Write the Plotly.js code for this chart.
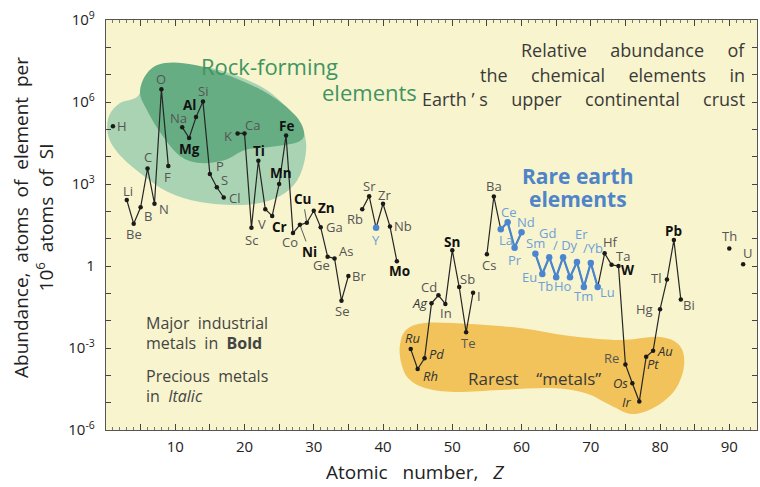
<!DOCTYPE html>
<html><head><meta charset="utf-8">
<script src="https://cdn.plot.ly/plotly-3.0.1.min.js"></script>
<style>html,body{margin:0;padding:0;background:#fff}#chart{width:760px;height:487px}</style>
</head><body><div id="chart"></div>
<script>
// ---------------- data ----------------
const elements = ['H','Li','Be','B','C','N','O','F','Na','Mg','Al','Si','P','S','Cl','K','Ca','Sc','Ti','V','Cr','Mn','Fe','Co','Ni','Cu','Zn','Ga','Ge','As','Se','Br','Rb','Sr','Y','Zr','Nb','Mo','Ru','Rh','Pd','Ag','Cd','In','Sn','Sb','Te','I','Cs','Ba','La','Ce','Pr','Nd','Sm','Eu','Gd','Tb','Dy','Ho','Er','Tm','Yb','Lu','Hf','Ta','W','Re','Os','Ir','Pt','Au','Hg','Tl','Pb','Bi','Th','U'];
const atomicNumbers = [1,3,4,5,6,7,8,9,11,12,13,14,15,16,17,19,20,21,22,23,24,25,26,27,28,29,30,31,32,33,34,35,37,38,39,40,41,42,44,45,46,47,48,49,50,51,52,53,55,56,57,58,59,60,62,63,64,65,66,67,68,69,70,71,72,73,74,75,76,77,78,79,80,81,82,83,90,92];
const abundance = [1.3e5,260,35,140,3700,190,2.9e6,4600,1.2e5,4.8e4,2.8e5,1.05e6,2300,760,320,7.1e4,7.1e4,25,7100,120,68,1000,6.0e4,16,32,38,105,26,2.2,1.9,0.054,0.43,120,360,25,190,28,1.5,9.1e-4,1.7e-4,4.2e-4,0.043,0.085,0.041,3.8,0.17,0.0038,0.105,2.7,350,22,40,4.7,17,2.8,0.51,2.1,0.39,2.1,0.39,1.4,0.17,1.3,0.17,2.9,1.1,1.0,2.5e-4,5.1e-5,1.1e-5,4.8e-4,7.9e-4,0.026,0.32,8.9,0.06,4.4,1.15];
const boldMetals = ['Mg','Al','Ti','Cr','Mn','Fe','Ni','Cu','Zn','Mo','Sn','W','Pb'];
const italicMetals = ['Ru','Rh','Pd','Ag','Os','Ir','Pt','Au'];
const rareEarths = ['La','Ce','Pr','Nd','Sm','Eu','Gd','Tb','Dy','Ho','Er','Tm','Yb','Lu'];
const blueElements = ['Y'].concat(rareEarths);
const isolated = ['Th','U'];
const labelText = {Dy:'/ Dy', Yb:'/Yb'};
const yTickVals = [1e-6,1e-5,1e-4,1e-3,1e-2,1e-1,1,10,100,1e3,1e4,1e5,1e6,1e7,1e8,1e9];
const yTickText = ['10<sup>-6</sup>',' ',' ','10<sup>-3</sup>',' ',' ','1',' ',' ','10<sup>3</sup>',' ',' ','10<sup>6</sup>',' ',' ','10<sup>9</sup>'];
const xTickVals = [5,10,15,20,25,30,35,40,45,50,55,60,65,70,75,80,85,90];
const xTickText = [' ','10',' ','20',' ','30',' ','40',' ','50',' ','60',' ','70',' ','80',' ','90'];

// ---------------- label placement (pixel offsets from the point; dy>0 = below) ----------------
const labelOffset = {H:[9,0],Li:[1,-9],Be:[0,10],B:[7,9],C:[0,-11],N:[10,5],O:[0,-10],F:[-1,11],Na:[-4,-9],Mg:[0,11],Al:[-7,-12],Si:[0,-10],P:[10,-8],S:[8,-7],Cl:[11,0],K:[-10,3],Ca:[8,-8],Sc:[0,12],Ti:[1,-10],V:[-3,15],Cr:[7,11],Mn:[2,-11],Fe:[0,-9],Co:[-3,9],Ni:[10,27],Cu:[-4,-24],Zn:[13,-3],Ga:[14,0],Ge:[-6,8],As:[11,-7],Se:[1,10],Br:[11,0],Rb:[-7,10],Sr:[0,-10],Y:[0,12],Zr:[1,-9],Nb:[13,0],Mo:[3,10],Ru:[2,-11],Rh:[13,7],Pd:[12,-4],Ag:[-12,0],Cd:[-9,-8],In:[1,9],Sn:[0,-8],Sb:[8,-8],Te:[2,11],I:[6,3],Cs:[2,11],Ba:[0,-10],La:[5,11],Ce:[1,-10],Pr:[0,12],Nd:[4,-10],Sm:[0,-11],Eu:[-13,3],Gd:[-2,-24],Tb:[-11,9],Dy:[2,-12],Ho:[-7,9],Er:[5,-28],Tm:[0,9],Yb:[2,-15],Lu:[10,5],Hf:[6,-11],Ta:[11,-9],W:[10,4],Re:[-14,-6],Os:[-12,0],Ir:[-12,0],Pt:[7,7],Au:[12,0],Hg:[-16,0],Tl:[-11,-2],Pb:[0,-9],Bi:[8,6],Th:[0,-12],U:[4,-11]};
const arrowLabels = ['Ni','Cu'];

const FONT = 'Open Sans, Liberation Sans, sans-serif';
// plot area in pixels
const L = 106, R = 757, T = 20, B = 430;
const W = R - L, H = B - T;
const px = x => (x - L) / W;
const py = y => (B - y) / H;

// line with gaps where atomic numbers are not consecutive
function gapped(names) {
  const xs = [], ys = [];
  let prev = null;
  elements.forEach((e, i) => {
    if (!names.includes(e)) return;
    const z = atomicNumbers[i];
    if (prev !== null && z - prev > 1) { xs.push(null); ys.push(null); }
    xs.push(z); ys.push(abundance[i]); prev = z;
  });
  return {xs, ys};
}
const blackLine = gapped(elements.filter(e => !isolated.includes(e)));
const blueLine = gapped(rareEarths);
const pick = names => {
  const xs = [], ys = [];
  elements.forEach((e, i) => { if (names.includes(e)) { xs.push(atomicNumbers[i]); ys.push(abundance[i]); } });
  return {xs, ys};
};
const blackPts = pick(elements.filter(e => !blueElements.includes(e)));
const bluePts = pick(blueElements);

const traces = [
  {x: blackLine.xs, y: blackLine.ys, mode: 'lines', line: {color: '#262626', width: 1.2}, connectgaps: false, hoverinfo: 'skip'},
  {x: blueLine.xs, y: blueLine.ys, mode: 'lines', line: {color: '#4a86cf', width: 2.2}, connectgaps: false, hoverinfo: 'skip'},
  {x: blackPts.xs, y: blackPts.ys, mode: 'markers', marker: {color: '#1a1a1a', size: 4.5}},
  {x: bluePts.xs, y: bluePts.ys, mode: 'markers', marker: {color: '#4a86cf', size: 6.5}}
];

// element labels
const annotations = elements.map((e, i) => {
  const [dx, dy] = labelOffset[e] || [0, -10];
  let txt = labelText[e] || e;
  let color = '#555';
  let size = 13;
  if (boldMetals.includes(e)) { txt = '<b>' + txt + '</b>'; color = '#111'; size = 13.5; }
  else if (italicMetals.includes(e)) { txt = '<i>' + txt + '</i>'; color = '#333'; }
  else if (blueElements.includes(e)) { color = '#6f9fd8'; }
  const a = {x: atomicNumbers[i], y: Math.log10(abundance[i]), xref: 'x', yref: 'y', text: txt,
    xanchor: 'center', yanchor: 'middle',
    font: {family: FONT, size: size, color: color}};
  if (arrowLabels.includes(e)) {
    Object.assign(a, {showarrow: true, arrowhead: 0, arrowwidth: 0.8, arrowcolor: '#333', ax: dx, ay: dy, standoff: 2});
  } else {
    Object.assign(a, {showarrow: false, xshift: dx, yshift: -dy});
  }
  return a;
});

const note = (text, x, y, opts) => Object.assign({xref: 'paper', yref: 'paper', x: px(x), y: py(y), text: text, showarrow: false,
  xanchor: 'center', yanchor: 'middle',
  font: {family: FONT, size: 16, color: '#3a3a3a'}}, opts || {});
const SP = '&nbsp;&nbsp;&nbsp;&nbsp; ';
const green = {family: FONT, size: 22, color: '#3f9462'};
const dark18 = {family: FONT, size: 18, color: '#3a3a3a'};
const side = {family: FONT, size: 16, color: '#444'};

annotations.push(
  note('Rock-forming', 269, 66, {font: green}),
  note('elements', 369, 92, {font: green}),
  note(['Relative', 'abundance', 'of'].join(SP), 747, 50, {xanchor: 'right', font: dark18}),
  note(['the', 'chemical', 'elements', 'in'].join(SP), 747, 75, {xanchor: 'right', font: dark18}),
  note(['Earth &#8217; s', 'upper', 'continental', 'crust'].join(SP), 747, 99, {xanchor: 'right', font: dark18}),
  note('<b>Rare earth</b>', 578, 176, {font: {family: FONT, size: 21, color: '#4f84c8'}}),
  note('<b>elements</b>', 578, 199, {font: {family: FONT, size: 21, color: '#4f84c8'}}),
  note('Major&nbsp; industrial', 144, 323, {xanchor: 'left', font: side}),
  note('metals&nbsp; in&nbsp; <b>Bold</b>', 144, 343, {xanchor: 'left', font: side}),
  note('Precious&nbsp; metals', 144, 376, {xanchor: 'left', font: side}),
  note('in&nbsp; <i>Italic</i>', 144, 396, {xanchor: 'left', font: side}),
  note('Rarest&nbsp;&nbsp;&nbsp; &#8220;metals&#8221;', 534, 378, {font: {family: FONT, size: 17, color: '#3a3a3a'}}),
  note('Abundance,&nbsp; atoms&nbsp; of&nbsp; element&nbsp; per<br>10<sup>6</sup>&nbsp; atoms&nbsp; of&nbsp; SI', 33, 218, {textangle: -90, font: {family: FONT, size: 19, color: '#222'}}),
  note('Atomic&nbsp;&nbsp; number,&nbsp;&nbsp; <i>Z</i>', 415, 472, {font: {family: FONT, size: 19, color: '#222'}})
);

// decorative background blobs (pixel outlines -> smooth closed paper paths)
function smoothPath(pts) {
  const P = pts.map(([x, y]) => [px(x), py(y)]);
  const n = P.length;
  let d = 'M' + P[0][0].toFixed(4) + ',' + P[0][1].toFixed(4);
  for (let i = 0; i < n; i++) {
    const p0 = P[(i - 1 + n) % n], p1 = P[i], p2 = P[(i + 1) % n], p3 = P[(i + 2) % n];
    const c1 = [p1[0] + (p2[0] - p0[0]) / 6, p1[1] + (p2[1] - p0[1]) / 6];
    const c2 = [p2[0] - (p3[0] - p1[0]) / 6, p2[1] - (p3[1] - p1[1]) / 6];
    d += ' C' + c1[0].toFixed(4) + ',' + c1[1].toFixed(4) + ' ' + c2[0].toFixed(4) + ',' + c2[1].toFixed(4) + ' ' + p2[0].toFixed(4) + ',' + p2[1].toFixed(4);
  }
  return d + ' Z';
}
const lightGreen = [[109,116],[120,103],[138,96],[150,72],[200,66],[260,86],[296,118],[306,142],[302,170],[290,189],[268,201],[238,205],[200,202],[168,192],[140,173],[118,153],[108,135]];
const darkGreen = [[140,92],[148,72],[165,63],[195,65],[235,78],[270,95],[295,115],[304,132],[298,142],[270,147],[245,150],[225,160],[200,163],[180,156],[162,135],[148,112]];
const yellowBlob = [[400,345],[406,330],[425,323],[470,324],[520,328],[570,336],[620,340],[660,337],[680,346],[684,366],[675,390],[655,407],[632,414],[610,405],[585,393],[550,388],[500,390],[455,392],[425,388],[408,378],[401,362]];
const blob = (pts, color) => ({type: 'path', xref: 'paper', yref: 'paper', path: smoothPath(pts), fillcolor: color, line: {width: 0}, layer: 'below'});

const layout = {
  width: 760, height: 487,
  margin: {l: L, r: 760 - R, t: T, b: 487 - B},
  paper_bgcolor: '#ffffff',
  plot_bgcolor: '#f8f4cd',
  showlegend: false,
  font: {family: FONT, color: '#222'},
  xaxis: {range: [0, 94], tickmode: 'array', tickvals: xTickVals, ticktext: xTickText,
    ticks: 'inside', ticklen: 6, tickcolor: '#444', tickwidth: 1,
    minor: {dtick: 1, ticks: 'inside', ticklen: 3, tickcolor: '#777'},
    showline: true, linecolor: '#555', linewidth: 1.2, mirror: 'allticks',
    showgrid: false, zeroline: false, ticklabelstandoff: 3,
    tickfont: {family: FONT, size: 15, color: '#222'}},
  yaxis: {type: 'log', range: [-6, 9], tickmode: 'array', tickvals: yTickVals, ticktext: yTickText,
    ticks: 'inside', ticklen: 5, tickcolor: '#444', tickwidth: 1,
    showline: true, linecolor: '#555', linewidth: 1.2, mirror: 'allticks',
    showgrid: false, zeroline: false, ticklabelstandoff: 7,
    tickfont: {family: FONT, size: 15, color: '#222'}},
  shapes: [blob(lightGreen, '#a9d3b2'), blob(darkGreen, '#67ad83'), blob(yellowBlob, '#f1c35a')],
  annotations: annotations
};

Plotly.newPlot('chart', traces, layout, {displayModeBar: false, staticPlot: true});
</script>
</body></html>
